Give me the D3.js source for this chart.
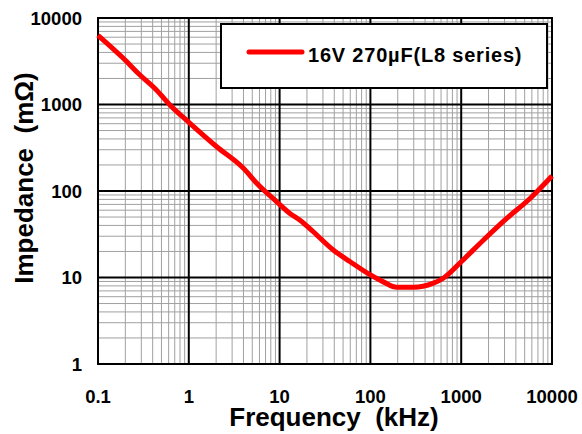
<!DOCTYPE html>
<html>
<head>
<meta charset="utf-8">
<script src="https://cdn.jsdelivr.net/npm/d3@7"></script>
<style>
  body { margin: 0; background: #fff; }
  text { font-family: "Liberation Sans", Arial, sans-serif; font-weight: bold; fill: #000; }
</style>
</head>
<body>
<svg id="chart" width="582" height="434"></svg>
<script>
// DATA
var freqKHz = [0.1, 0.19, 0.29, 0.44, 0.62, 1.03, 2.03, 4, 5.6, 9.3, 13, 16.8, 23.5, 39, 60, 100, 139, 195, 297, 493, 635, 1000, 1750, 3170, 5730, 10000];
var impedance = [6300, 3420, 2190, 1470, 987, 606, 325, 183, 123, 75, 55, 46, 33.8, 20.8, 15.2, 10.7, 8.9, 7.7, 7.7, 8.6, 9.8, 15.2, 27, 48.3, 82, 149];
var xTicks = [0.1, 1, 10, 100, 1000, 10000];
var yTicks = [1, 10, 100, 1000, 10000];
var seriesName = "16V 270\u00b5F(L8 series)";

var w = 582, h = 434;
var padLeft = 98, padRight = 552, padTop = 18, padBottom = 364;

var svg = d3.select("#chart");

// SCALES
var xScale = d3.scaleLog().domain([0.1, 10000]).range([padLeft, padRight]);
var yScale = d3.scaleLog().domain([1, 10000]).range([padBottom, padTop]);

// minor grid values (2..9 in every decade)
function minors(ticks) {
  var out = [];
  for (var i = 0; i < ticks.length - 1; i++) {
    for (var k = 2; k <= 9; k++) out.push(ticks[i] * k);
  }
  return out;
}

// GRID
var grid = svg.append("g");
grid.selectAll(".vmin").data(minors(xTicks)).enter().append("line")
  .attr("x1", function (d) { return xScale(d); })
  .attr("x2", function (d) { return xScale(d); })
  .attr("y1", padTop).attr("y2", padBottom)
  .attr("stroke", "#a0a0a0").attr("stroke-width", 1);
grid.selectAll(".hmin").data(minors(yTicks)).enter().append("line")
  .attr("y1", function (d) { return yScale(d); })
  .attr("y2", function (d) { return yScale(d); })
  .attr("x1", padLeft).attr("x2", padRight)
  .attr("stroke", "#a0a0a0").attr("stroke-width", 1);
grid.selectAll(".vmaj").data(xTicks).enter().append("line")
  .attr("x1", function (d) { return xScale(d); })
  .attr("x2", function (d) { return xScale(d); })
  .attr("y1", padTop).attr("y2", padBottom)
  .attr("stroke", "#000").attr("stroke-width", 2);
grid.selectAll(".hmaj").data(yTicks).enter().append("line")
  .attr("y1", function (d) { return yScale(d); })
  .attr("y2", function (d) { return yScale(d); })
  .attr("x1", padLeft).attr("x2", padRight)
  .attr("stroke", "#000").attr("stroke-width", 2);

// plot border
svg.append("rect")
  .attr("x", padLeft).attr("y", padTop)
  .attr("width", padRight - padLeft).attr("height", padBottom - padTop)
  .attr("fill", "none").attr("stroke", "#000").attr("stroke-width", 2);

// CURVE
var pts = freqKHz.map(function (f, i) { return [f, impedance[i]]; });
var line = d3.line()
  .x(function (d) { return xScale(d[0]); })
  .y(function (d) { return yScale(d[1]); })
  .curve(d3.curveMonotoneX);
svg.append("path")
  .datum(pts)
  .attr("d", line)
  .attr("fill", "none")
  .attr("stroke", "#ff0000")
  .attr("stroke-width", 5)
  .attr("stroke-linejoin", "round");

// TICK LABELS
svg.selectAll(".xl").data(xTicks).enter().append("text")
  .attr("x", function (d) { return xScale(d); })
  .attr("y", 403)
  .attr("text-anchor", "middle")
  .attr("font-size", "18.5px")
  .text(function (d) { return d; });
svg.selectAll(".yl").data(yTicks).enter().append("text")
  .attr("x", 82)
  .attr("y", function (d) { return yScale(d) + 6.5; })
  .attr("text-anchor", "end")
  .attr("font-size", "18.5px")
  .text(function (d) { return d; });

// AXIS TITLES
svg.append("text")
  .attr("x", 334)
  .attr("y", 426)
  .attr("text-anchor", "middle")
  .attr("font-size", "26px")
  .attr("xml:space", "preserve")
  .text("Frequency  (kHz)");
svg.append("text")
  .attr("transform", "translate(33,178) rotate(-90)")
  .attr("text-anchor", "middle")
  .attr("font-size", "26px")
  .attr("xml:space", "preserve")
  .text("Impedance  (m\u03a9)");

// LEGEND
var lg = svg.append("g");
lg.append("rect")
  .attr("x", 221).attr("y", 24)
  .attr("width", 326).attr("height", 64)
  .attr("fill", "#fff").attr("stroke", "#000").attr("stroke-width", 2);
lg.append("line")
  .attr("x1", 249).attr("x2", 302)
  .attr("y1", 52).attr("y2", 52)
  .attr("stroke", "#ff0000").attr("stroke-width", 5)
  .attr("stroke-linecap", "round");
lg.append("text")
  .attr("x", 308).attr("y", 62)
  .attr("font-size", "20px")
  .attr("letter-spacing", "0.8px")
  .text(seriesName);
</script>
</body>
</html>
